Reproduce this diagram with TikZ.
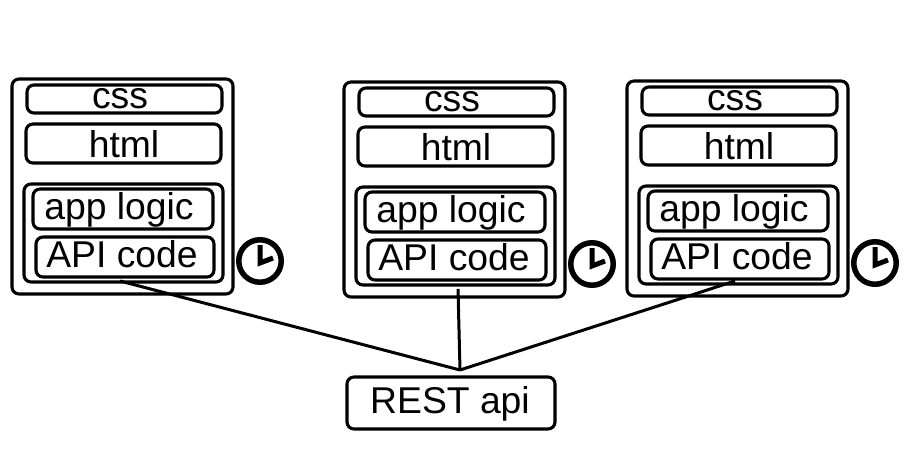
\documentclass[tikz,border=0pt]{standalone}
\usepackage{fontspec}
\setmainfont{Liberation Sans}
\tikzset{
  x=1pt,y=-1pt,
  boxn/.style={draw=black,line width=3.1pt,rounded corners=7pt,fill=none,inner sep=0pt,outer sep=0pt},
  txt/.style={inner sep=0pt,outer sep=0pt,anchor=base,font=\fontsize{37.3pt}{40pt}\selectfont},
  link/.style={draw=black,line width=3pt},
  clockring/.style={draw=black,line width=5.5pt,inner sep=0pt,outer sep=0pt,circle,minimum size=42.5pt},
  clockhand/.style={draw=black,line width=5pt,line join=miter}
}
% name x1 y1 x2 y2
\newcommand{\rbox}[5]{\node[boxn,minimum width={(#4)-(#2)},minimum height={(#5)-(#3)}] (#1) at ({((#2)+(#4))/2},{((#3)+(#5))/2}) {};}
\newcommand{\stack}[3]{%
\begin{scope}[shift={(#2,#3)}]
  \rbox{page#1}{12}{79}{233}{294}
  \rbox{css#1}{27}{85}{222}{113}
  \rbox{html#1}{26}{124}{221}{163}
  \rbox{group#1}{24}{184}{223}{282}
  \rbox{app#1}{33}{189}{213}{229}
  \rbox{code#1}{36}{237}{214}{277}
  \node[txt] (csst#1) at (120,108.5) {css};
  \node[txt] (htmlt#1) at (124,157.5) {html};
  \node[txt] (appt#1) at (119,219) {app logic};
  \node[txt] (codet#1) at (122,267.5) {API code};
  \node[clockring] (clock#1) at (260,261) {};
  \coordinate (hand#1a) at (260,245);
  \coordinate (hand#1b) at (260,263);
  \coordinate (hand#1c) at (273,258);
  \draw[clockhand] (hand#1a) -- (hand#1b) -- (hand#1c);
\end{scope}}
\begin{document}
\begin{tikzpicture}
\useasboundingbox (0,0) rectangle (908,450);
\fill[white] (0,0) rectangle (908,450);
\stack{A}{0}{0}
\stack{B}{332}{3}
\stack{C}{615}{2}
\rbox{rest}{347}{377}{555}{429}
\node[txt] (restt) at (450,413.5) {REST api};
\coordinate (hub) at (460,370);
\coordinate (fromA) at (120,281);
\coordinate (fromB) at (458,289);
\coordinate (fromC) at (735,281);
\draw[link] (fromA) -- (hub);
\draw[link] (fromB) -- (hub);
\draw[link] (fromC) -- (hub);
\end{tikzpicture}
\end{document}
